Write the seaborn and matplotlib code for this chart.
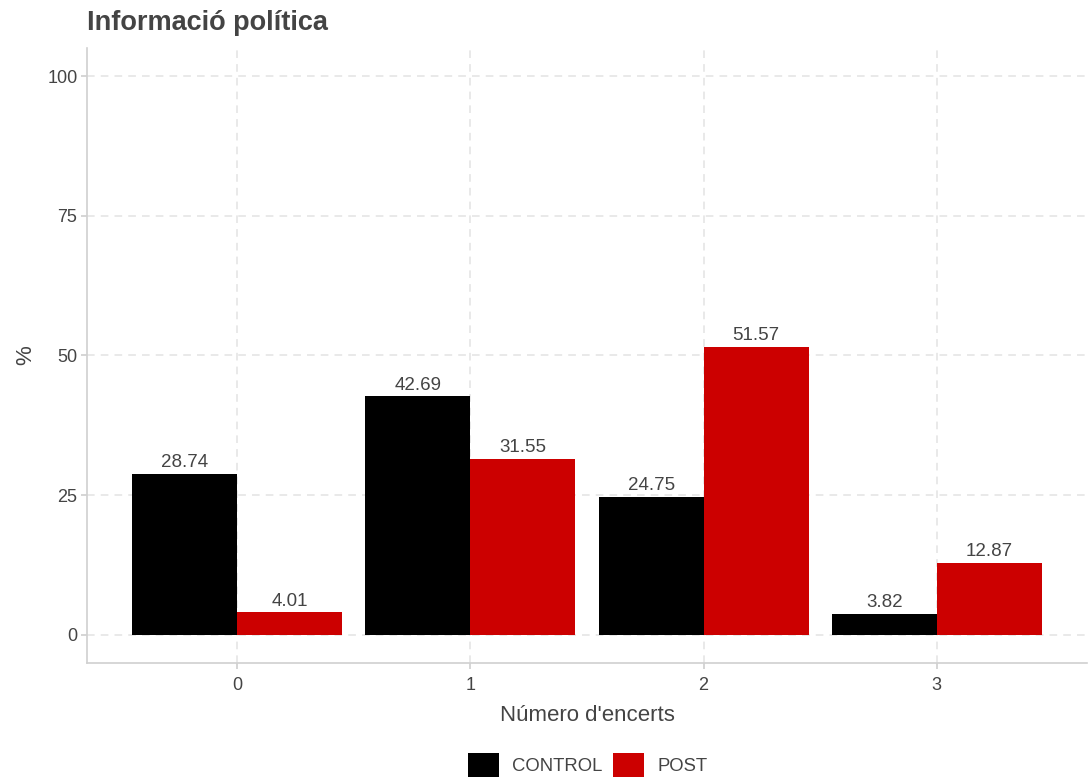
import pandas as pd
import matplotlib.pyplot as plt
import seaborn as sns

# dades
encerts = ["0", "1", "2", "3"]
control = [28.74, 42.69, 24.75, 3.82]
post = [4.01, 31.55, 51.57, 12.87]

df = pd.DataFrame({
    "encerts": encerts * 2,
    "pct": control + post,
    "grup": ["CONTROL"] * 4 + ["POST"] * 4,
})

sns.set_theme(style="white")
plt.rcParams["font.family"] = ["Liberation Sans", "DejaVu Sans"]

fig = plt.figure(figsize=(10.89, 7.77), dpi=100)
ax = fig.add_axes([0.08, 0.147, 0.918, 0.791])

sns.barplot(data=df, x="encerts", y="pct", hue="grup", order=encerts,
            palette={"CONTROL": "#000000", "POST": "#CC0000"},
            width=0.9, saturation=1, linewidth=0, ax=ax, legend=True)

for cont in ax.containers:
    ax.bar_label(cont, fmt="%.2f", padding=2, fontsize=13.5, color="#444444")

ax.set_ylim(-5, 105)
ax.set_xlim(-0.643, 3.643)
ax.set_yticks([0, 25, 50, 75, 100])
ax.grid(True, linestyle=(0, (5, 4)), color="#e3e3e3", linewidth=1.1)
ax.set_axisbelow(True)

for s in ["top", "right"]:
    ax.spines[s].set_visible(False)
for s in ["left", "bottom"]:
    ax.spines[s].set_color("#d0d0d0")
    ax.spines[s].set_linewidth(1.2)

ax.tick_params(axis="both", length=4, color="#d0d0d0", labelsize=13,
               labelcolor="#444444", left=True, bottom=True)
ax.tick_params(axis="x", pad=6)
ax.tick_params(axis="y", pad=3)

ax.set_xlabel("Número d'encerts", fontsize=16, color="#444444", labelpad=8)
ax.set_ylabel("%", fontsize=16, color="#444444", labelpad=8)
ax.set_title("Informació política", fontsize=19.5, fontweight="bold",
             color="#444444", loc="left", x=0.0, pad=13)

handles, labels = ax.get_legend_handles_labels()
ax.legend_.remove()
fig.legend(handles, labels, loc="lower center", bbox_to_anchor=(0.5395, -0.022),
           ncol=2, frameon=False, fontsize=13.3, handlelength=1.7,
           handleheight=1.7, handletextpad=0.7, columnspacing=0.55,
           labelcolor="#444444")

plt.savefig("out.png", dpi=100)
